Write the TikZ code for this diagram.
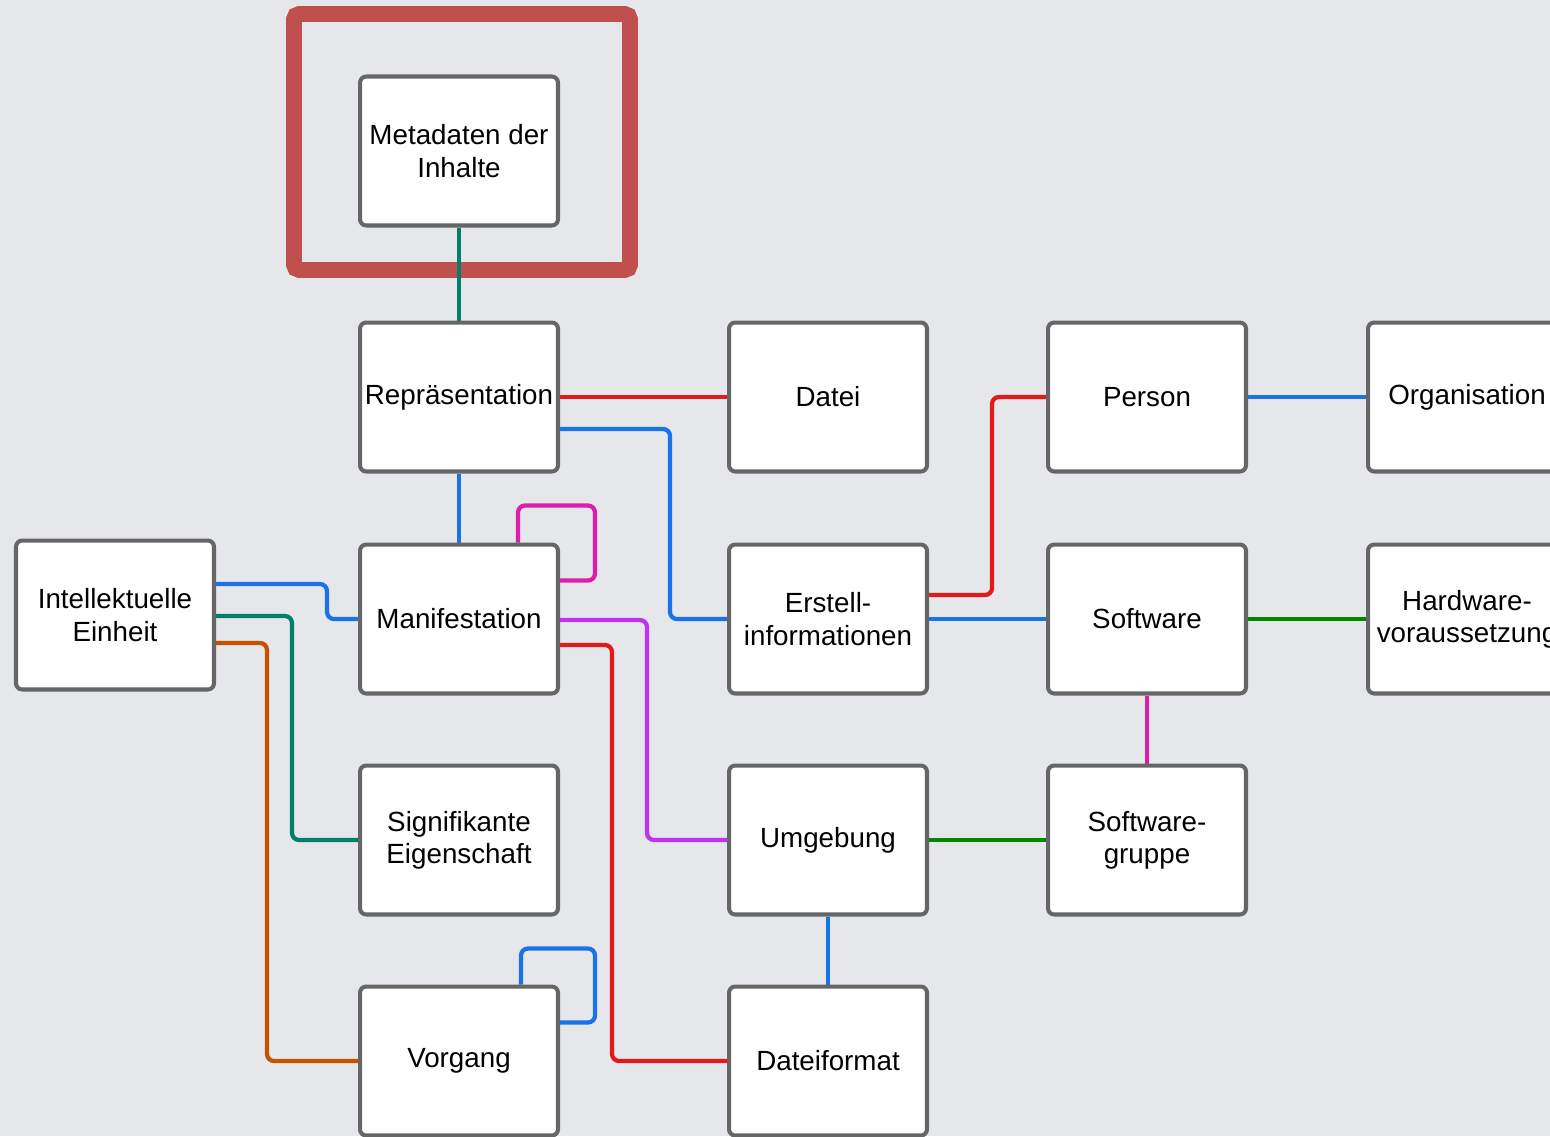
\documentclass[tikz,border=0pt]{standalone}
\usepackage{fontspec}
\setmainfont{Liberation Sans}
\usetikzlibrary{backgrounds}
\definecolor{bgcol}{RGB}{230,231,235}
\definecolor{boxline}{RGB}{102,102,102}
\definecolor{framered}{RGB}{192,80,77}
\definecolor{cteal}{RGB}{0,128,105}
\definecolor{cred}{RGB}{230,25,25}
\definecolor{cblue}{RGB}{25,115,230}
\definecolor{cmagenta}{RGB}{220,30,170}
\definecolor{cpurple}{RGB}{190,50,240}
\definecolor{corange}{RGB}{200,80,0}
\definecolor{cgreen}{RGB}{0,135,0}
\tikzset{
  entity/.style={draw=boxline,fill=white,line width=2.3pt,rounded corners=3.5pt,
    minimum width=3.96cm,minimum height=2.98cm,inner sep=0pt,align=center,
    font=\fontsize{15.8}{18.3}\selectfont},
  link/.style={line width=2.4pt,rounded corners=4pt}
}
\begin{document}
\begin{tikzpicture}[x=0.02cm,y=-0.02cm]
      \useasboundingbox (0,0) rectangle (1550,1136);
      \draw
        (459,151) node[entity] (meta){Metadaten der\\Inhalte}
        (459,397) node[entity] (rep){Repräsentation}
        (828,397) node[entity] (datei){Datei}
        (1147,397) node[entity] (person){Person}
        (1467,397) node[entity] (org){Organisation}
        (115,615) node[entity] (ein){Intellektuelle\\Einheit}
        (459,619) node[entity] (man){Manifestation}
        (828,619) node[entity] (erst){Erstell-\\informationen}
        (1147,619) node[entity] (soft){Software}
        (1467,619) node[entity] (hw){Hardware-\\voraussetzung}
        (459,840) node[entity] (sig){Signifikante\\Eigenschaft}
        (828,840) node[entity] (umg){Umgebung}
        (1147,840) node[entity] (sgrp){Software-\\gruppe}
        (459,1061) node[entity] (vorg){Vorgang}
        (828,1061) node[entity] (dfmt){Dateiformat};
      \begin{scope}[on background layer]
        \fill[bgcol] (0,0) rectangle (1550,1136);
        \draw[framered,line width=9pt,rounded corners=3pt] (294,14) rectangle (630,270);
        \draw[link,cteal] (meta) to (rep);
        \draw[link,cred] (rep) to (datei);
        \draw[link,cblue] (rep.east) ++(0,32) -- ++(110,0) |- (erst.west);
        \draw[link,cblue] (rep) to (man);
        \draw[link,cmagenta] (man.north) ++(59,0) -- ++(0,-37) -- ++(77,0) -- ++(0,75) -- ++(-90,0);
        \draw[link,cblue] (ein.east) ++(0,-31) -- ++(111,0) |- (man.west);
        \draw[link,cteal] (ein.east) ++(0,1) -- ++(76,0) |- (sig.west);
        \draw[link,corange] (ein.east) ++(0,28) -- ++(51,0) |- (vorg.west);
        \draw[link,cpurple] (man.east) ++(0,1) -- ++(87,0) |- (umg.west);
        \draw[link,cred] (man.east) ++(0,26) -- ++(52,0) |- (dfmt.west);
        \draw[link,cred] (erst.east) ++(0,-24) -- ++(63,0) |- (person.west);
        \draw[link,cblue] (erst) to (soft);
        \draw[link,cblue] (person) to (org);
        \draw[link,cgreen] (soft) to (hw);
        \draw[link,cmagenta] (soft) to (sgrp);
        \draw[link,cgreen] (umg) to (sgrp);
        \draw[link,cblue] (umg) to (dfmt);
        \draw[link,cblue] (vorg.north) ++(62,0) -- ++(0,-36) -- ++(74,0) -- ++(0,74) -- ++(-90,0);
      \end{scope}
    \end{tikzpicture}
\end{document}
